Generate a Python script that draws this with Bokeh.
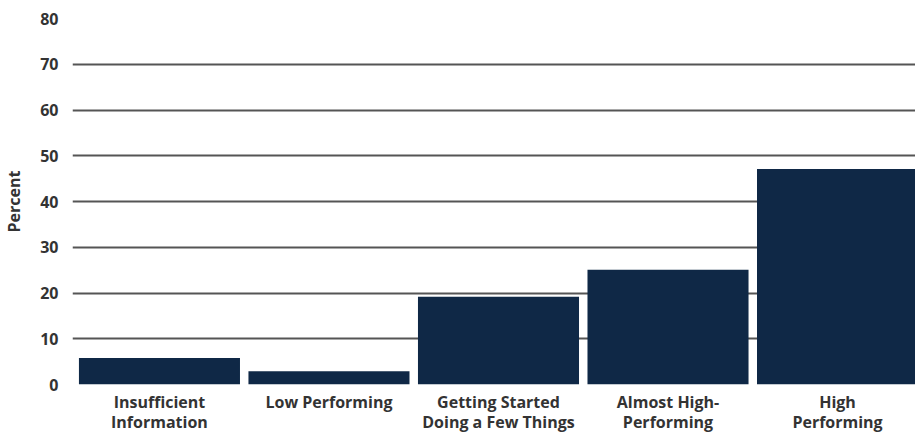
from bokeh.plotting import figure
from bokeh.models import ColumnDataSource, Range1d, FixedTicker
from bokeh.embed import file_html
from bokeh.resources import INLINE

categories = ["Insufficient\nInformation", "Low Performing", "Getting Started\nDoing a Few Things",
              "Almost High-\nPerforming", "High\nPerforming"]
percent = [5.8, 2.9, 19.2, 25.1, 47.1]
y_ticks = [0, 10, 20, 30, 40, 50, 60, 70, 80]

FONT = "Open Sans"
xs = list(range(len(categories)))
src = ColumnDataSource(dict(x=xs, top=percent))

p = figure(width=915, height=436, output_backend="svg", toolbar_location=None,
           x_range=Range1d(-0.513, 4.46), y_range=Range1d(0, 80),
           min_border_top=18, min_border_bottom=0, min_border_left=0, min_border_right=0)
p.outline_line_color = None
p.background_fill_color = "white"

p.vbar(x="x", top="top", bottom=0, width=0.95, source=src, fill_color="#0f2846", line_color=None)

p.xgrid.grid_line_color = None
p.ygrid.grid_line_color = "#555555"
p.ygrid.grid_line_width = 2
p.ygrid.ticker = FixedTicker(ticks=y_ticks)

p.yaxis.ticker = FixedTicker(ticks=y_ticks)
p.yaxis.axis_line_color = None
p.yaxis.major_tick_line_color = None
p.yaxis.minor_tick_line_color = None
p.yaxis.major_label_text_font = FONT
p.yaxis.major_label_text_font_style = "bold"
p.yaxis.major_label_text_font_size = "16px"
p.yaxis.major_label_text_color = "#333333"
p.yaxis.major_label_standoff = 8
p.yaxis.axis_label = "Percent"
p.yaxis.axis_label_text_font = FONT
p.yaxis.axis_label_text_font_style = "bold"
p.yaxis.axis_label_text_font_size = "16px"
p.yaxis.axis_label_text_color = "#333333"
p.yaxis.axis_label_standoff = 12

p.xaxis.ticker = FixedTicker(ticks=xs)
p.xaxis.major_label_overrides = {i: c for i, c in zip(xs, categories)}
p.xaxis.axis_line_color = None
p.xaxis.major_tick_line_color = None
p.xaxis.minor_tick_line_color = None
p.xaxis.major_label_text_font = FONT
p.xaxis.major_label_text_font_style = "bold"
p.xaxis.major_label_text_font_size = "16px"
p.xaxis.major_label_text_line_height = 0.94
p.xaxis.major_label_text_color = "#333333"
p.xaxis.major_label_standoff = 0

open("out.html", "w").write(file_html(p, INLINE))
